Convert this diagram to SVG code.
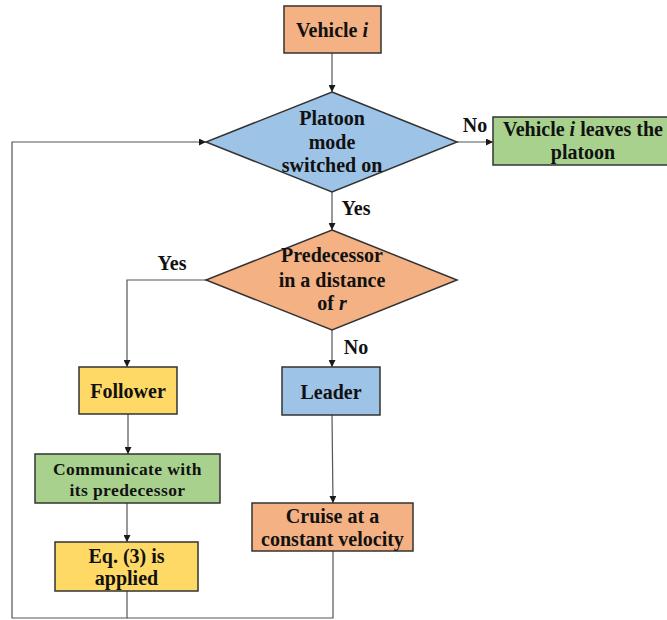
<svg xmlns="http://www.w3.org/2000/svg" width="667" height="620" viewBox="0 0 667 620">
<defs>
<marker id="arr" viewBox="0 0 10 10" refX="10" refY="5" markerWidth="7" markerHeight="7" markerUnits="userSpaceOnUse" orient="auto">
<path d="M0,0 L10,5 L0,10 z" fill="#1a1a1a"/>
</marker>
<style>
.t{font-family:"Liberation Serif","Times New Roman",serif;font-weight:bold;font-size:20px;fill:#111;text-anchor:middle}
.s{font-size:17.5px}
.n{stroke:#333;stroke-width:1.5}
.c{fill:none;stroke:#555;stroke-width:1.2}
.or{fill:#F4B183}
.bl{fill:#9DC3E6}
.gr{fill:#A9D18E}
.ye{fill:#FFD966}
</style>
</defs>
<rect width="667" height="620" fill="#fff"/>
<g id="connectors">
<path class="c" d="M332,53 L332,92" marker-end="url(#arr)"/>
<path class="c" d="M457,142 L493,142" marker-end="url(#arr)"/>
<path class="c" d="M332,192 L332,230" marker-end="url(#arr)"/>
<path class="c" d="M206,280 L127,280 L127,367" marker-end="url(#arr)"/>
<path class="c" d="M332,330 L332,367" marker-end="url(#arr)"/>
<path class="c" d="M128,414 L128,454" marker-end="url(#arr)"/>
<path class="c" d="M127,503 L127,542" marker-end="url(#arr)"/>
<path class="c" d="M332,415 L333,503" marker-end="url(#arr)"/>
<path class="c" d="M127,591 L127,618 L12,618 L12,142 L206,142" marker-end="url(#arr)"/>
<path class="c" d="M333,551 L333,618 L127,618"/>
<text class="t" x="475" y="132">No</text>
<text class="t" x="356" y="215">Yes</text>
<text class="t" x="172" y="270">Yes</text>
<text class="t" x="356" y="354">No</text>
</g>
<g id="vehicle">
<rect class="n or" x="284" y="6" width="97" height="47"/>
<text class="t" x="332" y="37">Vehicle <tspan font-style="italic">i</tspan></text>
</g>
<g id="platoon-mode">
<polygon class="n bl" points="332,92 457,142 332,192 206,142"/>
<text class="t" x="332" y="125">Platoon</text>
<text class="t" x="332" y="148.5">mode</text>
<text class="t" x="332" y="172">switched on</text>
</g>
<g id="leaves">
<rect class="n gr" x="493" y="117" width="180" height="48"/>
<text class="t" x="583" y="136">Vehicle <tspan font-style="italic">i</tspan> leaves the</text>
<text class="t" x="583" y="159">platoon</text>
</g>
<g id="predecessor">
<polygon class="n or" points="332,230 457,280 332,330 206,280"/>
<text class="t" x="332" y="262">Predecessor</text>
<text class="t" x="332" y="287">in a distance</text>
<text class="t" x="332" y="310">of <tspan font-style="italic">r</tspan></text>
</g>
<g id="follower">
<rect class="n ye" x="79" y="367" width="98" height="47"/>
<text class="t" x="128" y="398">Follower</text>
</g>
<g id="communicate">
<rect class="n gr" x="35" y="454" width="185" height="49"/>
<text class="t s" x="127.5" y="475" letter-spacing="0.4">Communicate with</text>
<text class="t s" x="127.5" y="496" letter-spacing="0.4">its predecessor</text>
</g>
<g id="equation">
<rect class="n ye" x="55" y="542" width="143" height="49"/>
<text class="t" x="126.5" y="563">Eq. (3) is</text>
<text class="t" x="126.5" y="585">applied</text>
</g>
<g id="leader">
<rect class="n bl" x="282" y="367" width="98" height="48"/>
<text class="t" x="331" y="399">Leader</text>
</g>
<g id="cruise">
<rect class="n or" x="252" y="503" width="161" height="48"/>
<text class="t" x="332.5" y="523">Cruise at a</text>
<text class="t" x="332.5" y="546">constant velocity</text>
</g>
</svg>
